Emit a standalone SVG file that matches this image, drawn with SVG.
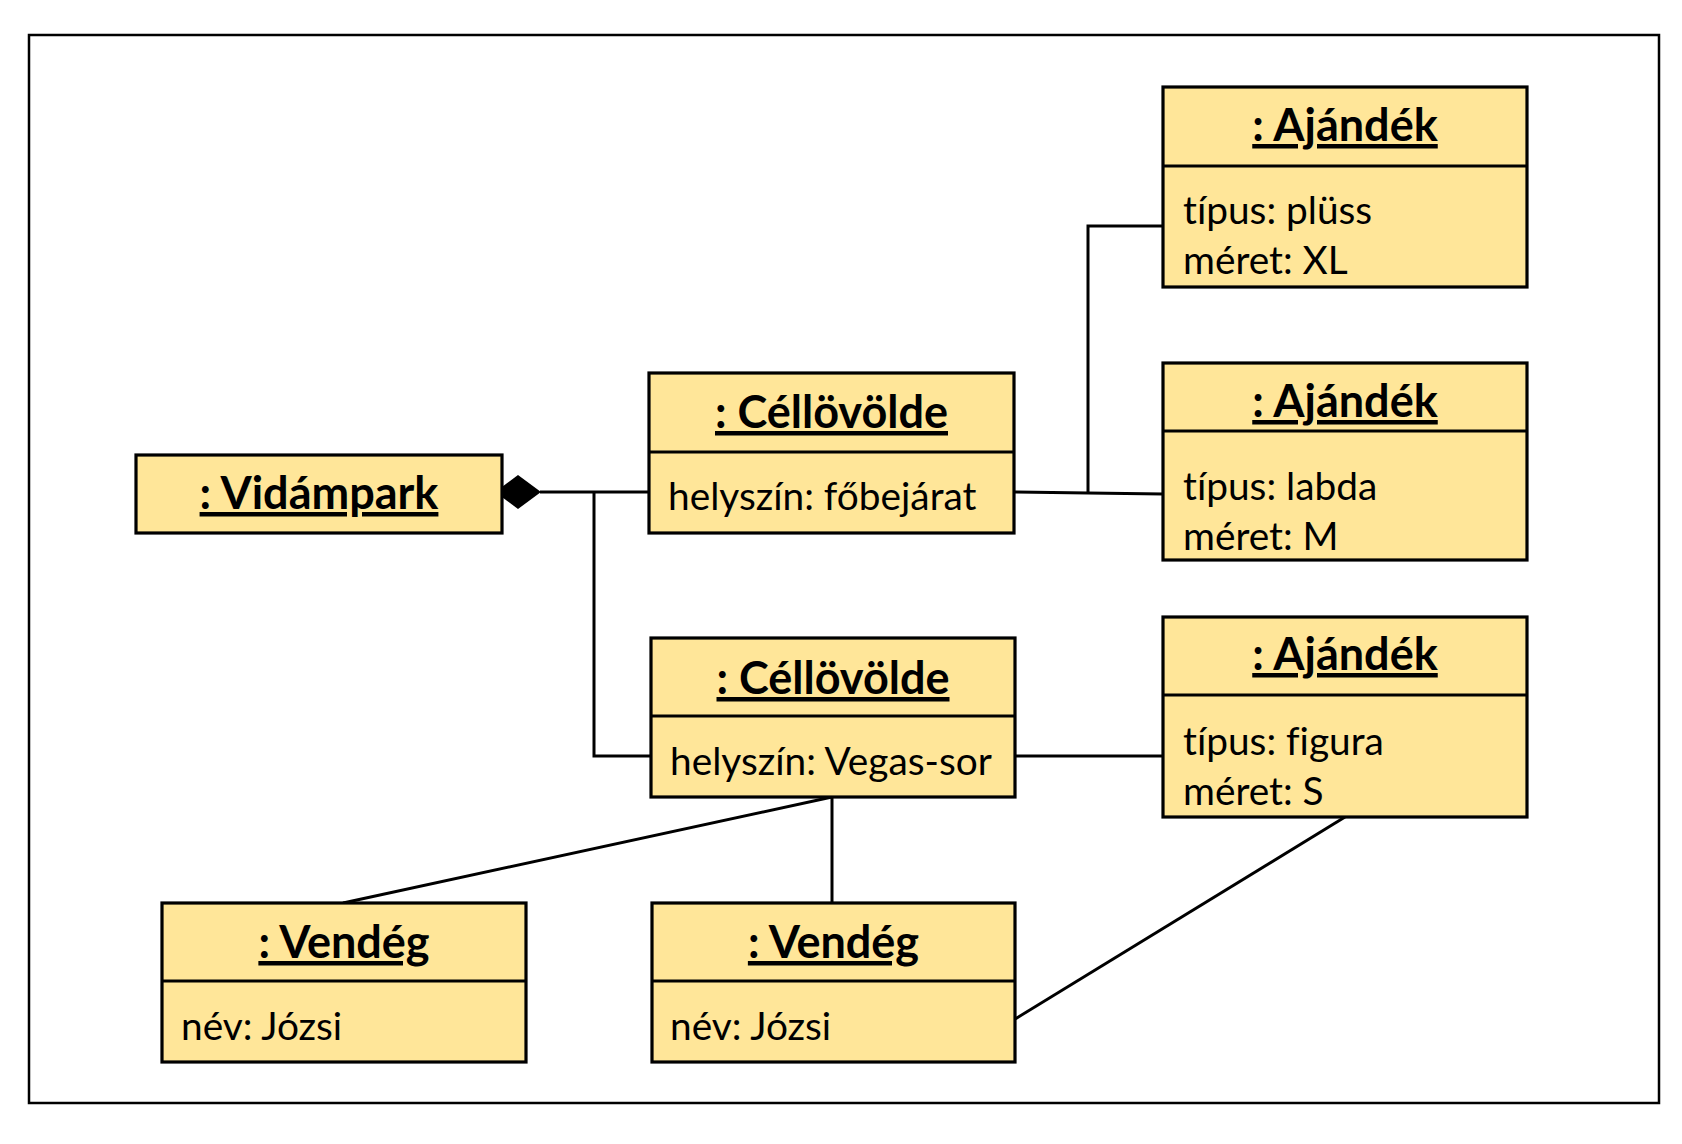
<svg xmlns="http://www.w3.org/2000/svg" width="1682" height="1144" viewBox="0 0 1682 1144">
<style>
.box{fill:#FFE699;stroke:#000;stroke-width:3.2}
.div{stroke:#000;stroke-width:3.2}
.t{font-family:Lato,"Open Sans","Liberation Sans",sans-serif;font-weight:bold;font-size:45px;text-anchor:middle;text-decoration:underline;fill:#000;font-variant-ligatures:none}
.a{font-family:Lato,"Open Sans","Liberation Sans",sans-serif;font-size:38.8px;fill:#000;font-variant-ligatures:none}
.c{fill:none;stroke:#000;stroke-width:3}
</style>
<rect x="0" y="0" width="1682" height="1144" fill="#fff"/>
<rect x="29" y="35" width="1630" height="1068" fill="none" stroke="#000" stroke-width="2.5"/>
<g id="connectors">
<polyline class="c" points="540,492 649,492"/>
<polyline class="c" points="594,492 594,756 651,756"/>
<polyline class="c" points="1014,492 1088,493 1163,494"/>
<polyline class="c" points="1088,493 1088,226 1163,226"/>
<polyline class="c" points="1015,756 1163,756"/>
<polyline class="c" points="832,797 343,903"/>
<polyline class="c" points="832,797 832,903"/>
<polyline class="c" points="1345,817 1015,1019"/>
<polygon points="495,492 518,475 541,492 518,509" fill="#000"/>
</g>
<g id="vidampark">
<rect class="box" x="136" y="455" width="366" height="78"/>
<text class="t" x="319" y="509">: Vidámpark</text>
</g>
<g id="cellovolde1">
<rect class="box" x="649" y="373" width="365" height="160"/>
<line class="div" x1="649" y1="452" x2="1014" y2="452"/>
<text class="t" x="831.5" y="428">: Céllövölde</text>
<text class="a" x="668" y="510">helyszín: főbejárat</text>
</g>
<g id="cellovolde2">
<rect class="box" x="651" y="638" width="364" height="159"/>
<line class="div" x1="651" y1="716" x2="1015" y2="716"/>
<text class="t" x="833" y="694">: Céllövölde</text>
<text class="a" x="670" y="775">helyszín: Vegas-sor</text>
</g>
<g id="ajandek1">
<rect class="box" x="1163" y="87" width="364" height="200"/>
<line class="div" x1="1163" y1="166" x2="1527" y2="166"/>
<text class="t" x="1345" y="141">: Ajándék</text>
<text class="a" x="1183" y="224">típus: plüss</text>
<text class="a" x="1183" y="274">méret: XL</text>
</g>
<g id="ajandek2">
<rect class="box" x="1163" y="363" width="364" height="197"/>
<line class="div" x1="1163" y1="431" x2="1527" y2="431"/>
<text class="t" x="1345" y="417">: Ajándék</text>
<text class="a" x="1183" y="500">típus: labda</text>
<text class="a" x="1183" y="550">méret: M</text>
</g>
<g id="ajandek3">
<rect class="box" x="1163" y="617" width="364" height="200"/>
<line class="div" x1="1163" y1="695" x2="1527" y2="695"/>
<text class="t" x="1345" y="670">: Ajándék</text>
<text class="a" x="1183" y="755">típus: figura</text>
<text class="a" x="1183" y="805">méret: S</text>
</g>
<g id="vendeg1">
<rect class="box" x="162" y="903" width="364" height="159"/>
<line class="div" x1="162" y1="981" x2="526" y2="981"/>
<text class="t" x="344" y="958">: Vendég</text>
<text class="a" x="181" y="1040">név: Józsi</text>
</g>
<g id="vendeg2">
<rect class="box" x="652" y="903" width="363" height="159"/>
<line class="div" x1="652" y1="981" x2="1015" y2="981"/>
<text class="t" x="833.5" y="958">: Vendég</text>
<text class="a" x="670" y="1040">név: Józsi</text>
</g>
</svg>
